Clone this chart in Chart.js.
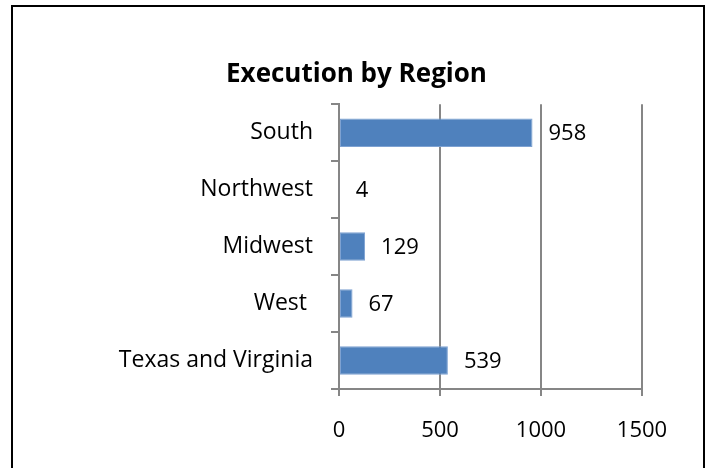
<!DOCTYPE html>
<html>
<head>
<meta charset="utf-8">
<script src="https://cdn.jsdelivr.net/npm/chart.js@4"></script>
<style>
  html, body { margin: 0; padding: 0; background: #fff; }
  #wrap { position: relative; width: 713px; height: 468px; overflow: hidden; }
  #frame { position: absolute; left: 11px; top: 5px; width: 694px; height: 480px; border: 2px solid #000; box-sizing: border-box; }
  #chart { position: absolute; left: 0; top: 0; }
</style>
</head>
<body>
<div id="wrap">
  <div id="frame"></div>
  <canvas id="chart" width="713" height="468"></canvas>
</div>
<script>
// chart data
var regions = ['South', 'Northwest', 'Midwest', 'West ', 'Texas and Virginia'];
var executions = [958, 4, 129, 67, 539];
var xTicks = [0, 500, 1000, 1500];

var fontFamily = "'Open Sans', sans-serif";
var gridColor = '#868686';

// value labels right of each bar
var barValueLabels = {
  id: 'barValueLabels',
  afterDatasetsDraw: function (chart) {
    var ctx = chart.ctx;
    var meta = chart.getDatasetMeta(0);
    ctx.save();
    ctx.font = '22px ' + fontFamily;
    ctx.fillStyle = '#000';
    ctx.textAlign = 'left';
    ctx.textBaseline = 'middle';
    meta.data.forEach(function (bar, i) {
      ctx.fillText(String(executions[i]), bar.x + 16, bar.y + 1);
    });
    ctx.restore();
  }
};

new Chart(document.getElementById('chart'), {
  type: 'bar',
  data: {
    labels: regions,
    datasets: [{
      label: 'Execution',
      data: executions,
      backgroundColor: '#4F81BD',
      borderColor: '#7EA2D2',
      borderWidth: 1,
      borderSkipped: false,
      barPercentage: 0.5,
      categoryPercentage: 1
    }]
  },
  options: {
    indexAxis: 'y',
    responsive: false,
    animation: false,
    layout: { padding: { left: 71, right: 71, top: 0, bottom: 0 } },
    plugins: {
      legend: { display: false },
      tooltip: { enabled: false },
      title: {
        display: true,
        text: 'Execution by Region',
        color: '#000',
        font: { family: fontFamily, size: 26, weight: 'bold', lineHeight: 1.2 },
        padding: { top: 59, bottom: 14 }
      }
    },
    scales: {
      x: {
        min: 0,
        max: 1500,
        afterBuildTicks: function (scale) {
          scale.ticks = xTicks.map(function (v) { return { value: v }; });
        },
        afterFit: function (scale) { scale.height = 79; },
        grid: { color: gridColor, lineWidth: 2, tickLength: 7, drawOnChartArea: true },
        border: { display: true, color: gridColor, width: 2 },
        ticks: {
          color: '#000',
          padding: 22,
          font: { family: fontFamily, size: 22 },
          callback: function (value) { return String(value); }
        }
      },
      y: {
        afterFit: function (scale) { scale.width = 268; },
        grid: { offset: true, drawOnChartArea: false, color: gridColor, lineWidth: 2, tickLength: 8 },
        border: { display: true, color: gridColor, width: 2 },
        ticks: { color: '#000', padding: 18, font: { family: fontFamily, size: 23 } }
      }
    }
  },
  plugins: [barValueLabels]
});
</script>
</body>
</html>
